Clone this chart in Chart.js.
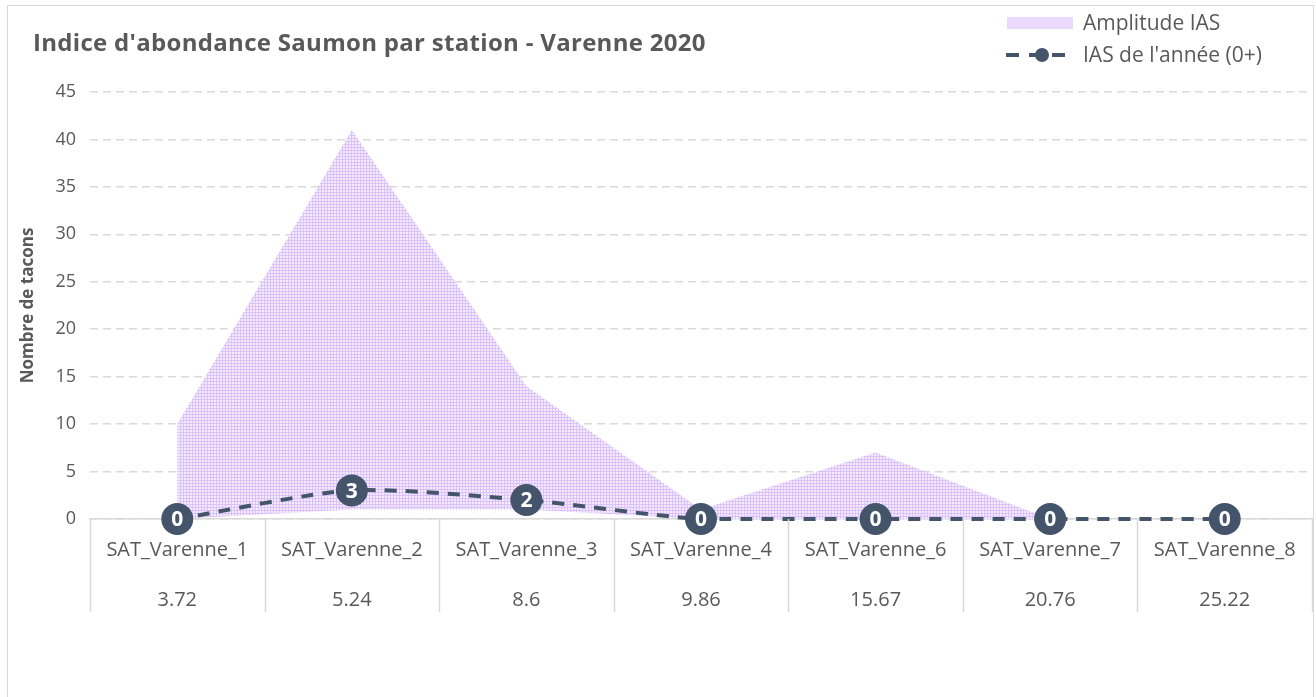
<!DOCTYPE html>
<html>
<head>
<meta charset="utf-8">
<script src="https://cdn.jsdelivr.net/npm/chart.js@4"></script>
<style>
    body { margin: 0; width: 1316px; height: 697px; overflow: hidden; background: #fff; font-family: "Open Sans", sans-serif; }
    #frame { position: absolute; left: 7px; top: 5px; width: 1305px; height: 720px; border: 1px solid #d9d9d9; }
    #wrap { position: absolute; left: 0; top: 0; width: 1316px; height: 697px; overflow: hidden; }
    #title { position: absolute; left: 33px; top: 25px; font-size: 24px; font-weight: bold; color: #595959; letter-spacing: 0.3px; }
    .leg { position: absolute; left: 1083px; font-size: 21px; color: #595959; line-height: 28px; }
    #sw1 { position: absolute; left: 1007px; top: 17px; width: 66px; height: 12px; background: #ead9fc; }
    .dsh { position: absolute; top: 53px; height: 4px; background: #44546a; }
    #dot { position: absolute; left: 1035px; top: 48px; width: 14px; height: 14px; border-radius: 50%; background: #44546a; }
</style>
</head>
<body>
<div id="frame"></div>
<div id="wrap"><canvas id="chart" width="1328" height="697"></canvas></div>
<div id="title">Indice d'abondance Saumon par station - Varenne 2020</div>
<div id="sw1"></div>
<div class="leg" style="top:8px">Amplitude IAS</div>
<div class="dsh" style="left:1006px;width:13px"></div>
<div class="dsh" style="left:1029px;width:12px"></div>
<div class="dsh" style="left:1052px;width:13px"></div>
<div id="dot"></div>
<div class="leg" style="top:40px">IAS de l'année (0+)</div>

<script>
// stations and their distance (km)
const stations = ['SAT_Varenne_1', 'SAT_Varenne_2', 'SAT_Varenne_3', 'SAT_Varenne_4', 'SAT_Varenne_6', 'SAT_Varenne_7', 'SAT_Varenne_8'];
const distances = ['3.72', '5.24', '8.6', '9.86', '15.67', '20.76', '25.22'];

// amplitude band (min / max) and IAS of the year
const amplitudeMin = [0, 1, 1, 0, 0, 0, 0];
const amplitudeMax = [10, 41, 14, 1, 7, 0, 0];
const iasAnnee = [0, 3, 2, 0, 0, 0, 0];

const yMin = 0;
const yMax = 45;
const yStep = 5;

// small grid pattern like the excel fill
function makePattern() {
    const c = document.createElement('canvas');
    c.width = 3;
    c.height = 3;
    const g = c.getContext('2d');
    g.fillStyle = '#f4ecfe';
    g.fillRect(0, 0, 3, 3);
    g.fillStyle = '#dcc2fa';
    g.fillRect(0, 0, 3, 1);
    g.fillRect(0, 0, 1, 3);
    return g.createPattern(c, 'repeat');
}

// white numbers inside the markers
const pointLabels = {
    id: 'pointLabels',
    afterDatasetsDraw(chart) {
        const ctx = chart.ctx;
        const meta = chart.getDatasetMeta(2);
        ctx.save();
        ctx.fillStyle = '#ffffff';
        ctx.font = 'bold 21px "Open Sans"';
        ctx.textAlign = 'center';
        ctx.textBaseline = 'middle';
        meta.data.forEach((pt, i) => {
            ctx.fillText(String(iasAnnee[i]), pt.x, pt.y + 1);
        });
        ctx.restore();
    }
};

// table lines under the x axis, between categories
const tableLines = {
    id: 'tableLines',
    afterDraw(chart) {
        const x = chart.scales.x;
        const ctx = chart.ctx;
        const step = x.getPixelForValue(1) - x.getPixelForValue(0);
        ctx.save();
        ctx.strokeStyle = '#d9d9d9';
        ctx.lineWidth = 1.5;
        for (let i = 0; i <= stations.length; i++) {
            const px = Math.round(x.getPixelForValue(i) - step / 2) + 0.5;
            ctx.beginPath();
            ctx.moveTo(px, x.top);
            ctx.lineTo(px, x.top + 93);
            ctx.stroke();
        }
        ctx.restore();
    }
};

const ctx = document.getElementById('chart').getContext('2d');
new Chart(ctx, {
    type: 'line',
    data: {
        labels: stations,
        datasets: [
            {
                label: 'min',
                data: amplitudeMin,
                borderWidth: 0,
                pointRadius: 0,
                fill: false,
                tension: 0,
                order: 3
            },
            {
                label: 'Amplitude IAS',
                data: amplitudeMax,
                borderWidth: 0,
                pointRadius: 0,
                backgroundColor: makePattern(),
                fill: '-1',
                tension: 0,
                order: 2
            },
            {
                label: "IAS de l'année (0+)",
                data: iasAnnee,
                borderColor: '#44546a',
                borderWidth: 4,
                borderDash: [12, 9],
                pointRadius: 16,
                pointHoverRadius: 16,
                pointBackgroundColor: '#44546a',
                pointBorderWidth: 0,
                tension: 0.25,
                fill: false,
                clip: false,
                order: 1
            }
        ]
    },
    options: {
        responsive: false,
        animation: false,
        layout: { padding: { left: 18, right: 0, top: 92, bottom: 66 } },
        plugins: {
            legend: { display: false },
            tooltip: { enabled: false }
        },
        scales: {
            x: {
                offset: true,
                grid: {
                    drawOnChartArea: false,
                    drawTicks: false
                },
                border: { color: '#d9d9d9', width: 1.5 },
                ticks: {
                    color: '#595959',
                    font: { family: 'Open Sans', size: 20, lineHeight: 2.5 },
                    padding: 6,
                    maxRotation: 0,
                    autoSkip: false,
                    callback: function(value, index) {
                        return [stations[index], distances[index]];
                    }
                }
            },
            y: {
                min: yMin,
                max: yMax,
                ticks: {
                    stepSize: yStep,
                    color: '#595959',
                    font: { family: 'Open Sans', size: 18 },
                    padding: 14
                },
                grid: {
                    color: '#d9d9d9',
                    lineWidth: 1.5,
                    drawTicks: false
                },
                border: { display: false, dash: [8, 5] },
                title: {
                    display: true,
                    text: 'Nombre de tacons',
                    color: '#595959',
                    font: { family: 'Open Sans', size: 17, weight: 'bold' },
                    padding: { top: 0, bottom: 3 }
                }
            }
        }
    },
    plugins: [pointLabels, tableLines]
});
</script>
</body>
</html>
